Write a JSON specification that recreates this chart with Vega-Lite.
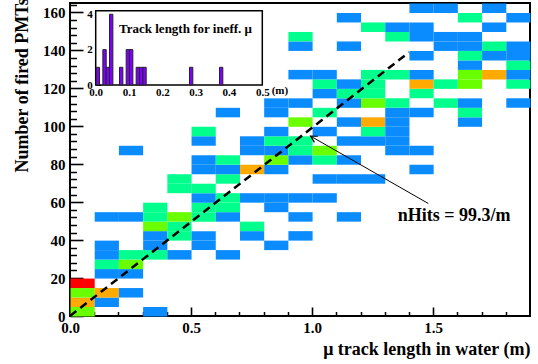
{
  "$schema": "https://vega.github.io/schema/vega-lite/v6.json",
  "width": 460,
  "height": 313,
  "autosize": {"type": "none"},
  "padding": {"left": 70, "top": 3, "right": 8, "bottom": 48},
  "background": "white",
  "config": {
    "view": {"stroke": "black", "strokeWidth": 2},
    "font": "Liberation Serif",
    "axis": {"grid": false, "zindex": 1, "domainColor": "black", "tickColor": "black", "labelColor": "black", "titleColor": "black", "labelFont": "Liberation Serif", "titleFont": "Liberation Serif", "labelFontWeight": "bold", "titleFontWeight": "bold", "labelOverlap": false, "labelFlush": false}
  },
  "layer": [
    {
      "layer": [
        {
          "data": {"values": [
            {"x":0.05,"y":2.5,"n":3},{"x":0.35,"y":2.5,"n":1},
            {"x":0.05,"y":7.5,"n":4},{"x":0.15,"y":7.5,"n":1},
            {"x":0.05,"y":12.5,"n":3},{"x":0.15,"y":12.5,"n":4},{"x":0.25,"y":12.5,"n":1},
            {"x":0.05,"y":17.5,"n":5},
            {"x":0.15,"y":22.5,"n":1},{"x":0.25,"y":22.5,"n":1},
            {"x":0.15,"y":27.5,"n":2},{"x":0.25,"y":27.5,"n":3},
            {"x":0.15,"y":32.5,"n":1},{"x":0.25,"y":32.5,"n":2},{"x":0.35,"y":32.5,"n":2},{"x":0.45,"y":32.5,"n":1},{"x":0.65,"y":32.5,"n":1},
            {"x":0.15,"y":37.5,"n":1},{"x":0.35,"y":37.5,"n":1},{"x":0.55,"y":37.5,"n":1},{"x":0.85,"y":37.5,"n":1},
            {"x":0.35,"y":42.5,"n":1},{"x":0.45,"y":42.5,"n":2},{"x":0.55,"y":42.5,"n":1},{"x":0.75,"y":42.5,"n":1},{"x":0.95,"y":42.5,"n":1},
            {"x":0.35,"y":47.5,"n":3},{"x":0.45,"y":47.5,"n":2},{"x":0.75,"y":47.5,"n":2},
            {"x":0.15,"y":52.5,"n":1},{"x":0.25,"y":52.5,"n":1},{"x":0.35,"y":52.5,"n":2},{"x":0.45,"y":52.5,"n":3},{"x":0.55,"y":52.5,"n":2},{"x":0.65,"y":52.5,"n":1},{"x":0.95,"y":52.5,"n":1},{"x":1.15,"y":52.5,"n":1},
            {"x":0.35,"y":57.5,"n":2},{"x":0.55,"y":57.5,"n":2},{"x":0.65,"y":57.5,"n":2},{"x":0.85,"y":57.5,"n":1},
            {"x":0.55,"y":62.5,"n":1},{"x":0.65,"y":62.5,"n":2},{"x":0.75,"y":62.5,"n":1},{"x":0.85,"y":62.5,"n":1},{"x":0.95,"y":62.5,"n":1},{"x":1.05,"y":62.5,"n":1},
            {"x":0.45,"y":67.5,"n":2},{"x":0.55,"y":67.5,"n":2},
            {"x":0.45,"y":72.5,"n":2},{"x":0.65,"y":72.5,"n":2},{"x":1.05,"y":72.5,"n":1},{"x":1.15,"y":72.5,"n":1},{"x":1.25,"y":72.5,"n":1},
            {"x":0.55,"y":77.5,"n":1},{"x":0.65,"y":77.5,"n":1},{"x":0.75,"y":77.5,"n":4},{"x":0.85,"y":77.5,"n":1},{"x":1.45,"y":77.5,"n":1},
            {"x":0.55,"y":82.5,"n":1},{"x":0.65,"y":82.5,"n":2},{"x":0.85,"y":82.5,"n":3},{"x":0.95,"y":82.5,"n":1},{"x":1.05,"y":82.5,"n":2},{"x":1.15,"y":82.5,"n":1},
            {"x":0.25,"y":87.5,"n":1},{"x":0.75,"y":87.5,"n":1},{"x":0.85,"y":87.5,"n":1},{"x":0.95,"y":87.5,"n":2},{"x":1.05,"y":87.5,"n":3},{"x":1.35,"y":87.5,"n":1},{"x":1.45,"y":87.5,"n":1},
            {"x":0.55,"y":92.5,"n":1},{"x":0.75,"y":92.5,"n":1},{"x":0.85,"y":92.5,"n":2},{"x":0.95,"y":92.5,"n":2},{"x":1.15,"y":92.5,"n":1},{"x":1.25,"y":92.5,"n":1},{"x":1.35,"y":92.5,"n":1},
            {"x":0.55,"y":97.5,"n":2},{"x":0.85,"y":97.5,"n":1},{"x":1.05,"y":97.5,"n":1},{"x":1.25,"y":97.5,"n":2},{"x":1.35,"y":97.5,"n":1},
            {"x":0.95,"y":102.5,"n":3},{"x":1.15,"y":102.5,"n":1},{"x":1.25,"y":102.5,"n":4},{"x":1.35,"y":102.5,"n":1},{"x":1.65,"y":102.5,"n":1},
            {"x":0.65,"y":107.5,"n":1},{"x":0.85,"y":107.5,"n":1},{"x":1.05,"y":107.5,"n":2},{"x":1.35,"y":107.5,"n":1},{"x":1.45,"y":107.5,"n":1},{"x":1.65,"y":107.5,"n":2},
            {"x":0.85,"y":112.5,"n":1},{"x":0.95,"y":112.5,"n":1},{"x":1.15,"y":112.5,"n":1},{"x":1.25,"y":112.5,"n":3},{"x":1.35,"y":112.5,"n":2},{"x":1.55,"y":112.5,"n":2},{"x":1.65,"y":112.5,"n":1},{"x":1.85,"y":112.5,"n":1},
            {"x":1.05,"y":117.5,"n":1},{"x":1.15,"y":117.5,"n":2},{"x":1.25,"y":117.5,"n":2},{"x":1.45,"y":117.5,"n":2},
            {"x":1.05,"y":122.5,"n":2},{"x":1.15,"y":122.5,"n":1},{"x":1.25,"y":122.5,"n":2},{"x":1.45,"y":122.5,"n":4},{"x":1.55,"y":122.5,"n":2},{"x":1.65,"y":122.5,"n":3},{"x":1.85,"y":122.5,"n":2},
            {"x":0.95,"y":127.5,"n":1},{"x":1.05,"y":127.5,"n":1},{"x":1.25,"y":127.5,"n":2},{"x":1.35,"y":127.5,"n":2},{"x":1.45,"y":127.5,"n":1},{"x":1.65,"y":127.5,"n":3},{"x":1.75,"y":127.5,"n":4},{"x":1.85,"y":127.5,"n":1},
            {"x":1.65,"y":132.5,"n":1},{"x":1.85,"y":132.5,"n":2},
            {"x":1.45,"y":137.5,"n":1},{"x":1.65,"y":137.5,"n":2},{"x":1.75,"y":137.5,"n":1},{"x":1.85,"y":137.5,"n":1},
            {"x":0.95,"y":142.5,"n":1},{"x":1.15,"y":142.5,"n":1},{"x":1.55,"y":142.5,"n":1},{"x":1.65,"y":142.5,"n":1},{"x":1.75,"y":142.5,"n":2},{"x":1.85,"y":142.5,"n":1},
            {"x":0.95,"y":147.5,"n":2},{"x":1.35,"y":147.5,"n":2},{"x":1.45,"y":147.5,"n":1},{"x":1.55,"y":147.5,"n":1},{"x":1.65,"y":147.5,"n":1},
            {"x":1.25,"y":152.5,"n":2},{"x":1.35,"y":152.5,"n":1},{"x":1.45,"y":152.5,"n":1},{"x":1.75,"y":152.5,"n":1},
            {"x":1.15,"y":157.5,"n":1},{"x":1.65,"y":157.5,"n":2},{"x":1.85,"y":157.5,"n":1},
            {"x":1.45,"y":162.5,"n":1},{"x":1.55,"y":162.5,"n":1},{"x":1.75,"y":162.5,"n":1}
          ]},
          "mark": {"type": "rect", "binSpacing": 0},
          "encoding": {
            "x": {
              "field": "x", "type": "quantitative",
              "bin": {"step": 0.1, "extent": [0, 1.9]},
              "scale": {"domain": [0, 1.9], "nice": false, "zero": false},
              "axis": {
                "orient": "bottom", "offset": -9, "domain": false,
                "values": [0, 0.5, 1.0, 1.5],
                "format": ".1f", "labelOverlap": false,
                "labelFontSize": 15, "labelPadding": 4, "tickSize": 9, "tickWidth": 1.6,
                "title": "μ track length in water (m)", "titleFontSize": 18,
                "titleAnchor": "end", "titleAlign": "right", "titleBaseline": "alphabetic", "titleX": 460, "titleY": 47.5
              }
            },
            "y": {
              "field": "y", "type": "quantitative",
              "bin": {"step": 5, "extent": [0, 165]},
              "scale": {"domain": [0, 165], "nice": false, "zero": false},
              "axis": {
                "orient": "left", "offset": -13, "domain": false,
                "values": [0, 20, 40, 60, 80, 100, 120, 140, 160],
                "format": "d", "labelOverlap": false,
                "labelFontSize": 15, "labelPadding": 5, "tickSize": 13, "tickWidth": 1.6,
                "title": "Number of fired PMTs", "titleFontSize": 18, "titleAngle": 270,
                "titleAnchor": "start", "titleAlign": "left", "titleBaseline": "alphabetic", "titleX": -56, "titleY": 169
              }
            },
            "color": {
              "field": "n", "type": "ordinal",
              "scale": {"domain": [1,2,3,4,5], "range": ["#0a8cff", "#00ff8c", "#6aff00", "#ffaa00", "#ff0000"]},
              "legend": null
            }
          }
        },
        {
          "data": {"values": [{}]},
          "mark": {"type": "rule", "color": "black", "strokeWidth": 2.5, "strokeDash": [8, 5]},
          "encoding": {
            "x": {"datum": 0, "axis": {"orient": "bottom", "offset": -4.5, "values": [0.1,0.2,0.3,0.4,0.6,0.7,0.8,0.9,1.1,1.2,1.3,1.4,1.6,1.7,1.8], "labels": false, "domain": false, "tickSize": 4.5, "tickWidth": 1.5, "title": null}},
            "y": {"datum": 0, "axis": {"orient": "left", "offset": -6.5, "values": [4,8,12,16,24,28,32,36,44,48,52,56,64,68,72,76,84,88,92,96,104,108,112,116,124,128,132,136,144,148,152,156,164], "labels": false, "domain": false, "tickSize": 6.5, "tickWidth": 1.5, "title": null}},
            "x2": {"datum": 1.4}, "y2": {"datum": 139}
          }
        },
        {
          "data": {"values": [{}]},
          "mark": {"type": "rule", "color": "black", "strokeWidth": 1},
          "encoding": {"x": {"datum": 1.48, "axis": null}, "y": {"datum": 59.3, "axis": null}, "x2": {"datum": 0.994}, "y2": {"datum": 94.8}}
        },
        {
          "data": {"values": [{}]},
          "mark": {"type": "point", "shape": "M-0.55,1L0,0L0.55,1", "filled": false, "stroke": "black", "strokeWidth": 1.2, "size": 160, "angle": 299.6, "opacity": 1},
          "encoding": {"x": {"datum": 0.994, "axis": null}, "y": {"datum": 94.8, "axis": null}}
        },
        {
          "data": {"values": [{}]},
          "mark": {"type": "text", "font": "Liberation Serif", "fontWeight": "bold", "fontSize": 18, "align": "center", "baseline": "alphabetic", "color": "black"},
          "encoding": {"x": {"datum": 1.587, "axis": null}, "y": {"datum": 50, "axis": null}, "text": {"value": "nHits = 99.3/m"}}
        }
      ],
      "resolve": {"axis": {"x": "independent", "y": "independent"}}
    },
    {
      "layer": [
        {
          "data": {"values": [{}]},
          "mark": {"type": "rect", "fill": "white", "stroke": "black", "strokeWidth": 1.5},
          "encoding": {
            "x": {"datum": 0, "scale": {"domain": [0, 0.5], "range": [25.7, 192.3], "nice": false, "zero": false}},
            "x2": {"datum": 0.5},
            "y": {"datum": 0, "scale": {"domain": [0, 4.2], "range": [82, 7.7], "nice": false, "zero": false}},
            "y2": {"datum": 4.2}
          }
        },
        {
          "data": {"values": [
            {"len":0.005,"n":1},{"len":0.025,"n":2},{"len":0.035,"n":1},{"len":0.045,"n":4},
            {"len":0.075,"n":1},{"len":0.095,"n":2},{"len":0.105,"n":2},
            {"len":0.125,"n":1},{"len":0.135,"n":1},{"len":0.145,"n":1},
            {"len":0.285,"n":1},{"len":0.375,"n":1}
          ]},
          "mark": {"type": "bar", "binSpacing": 0, "fill": "#8000ff", "stroke": "#222222", "strokeWidth": 1},
          "encoding": {
            "x": {
              "field": "len", "type": "quantitative",
              "bin": {"step": 0.01, "extent": [0, 0.5]},
              "axis": {
                "orient": "bottom", "offset": -231, "domain": false, "ticks": false,
                "values": [0, 0.1, 0.2, 0.3, 0.4, 0.5], "format": ".1f", "labelOverlap": false,
                "labelFontSize": 11, "labelPadding": 1, "title": null
              }
            },
            "y": {
              "field": "n", "type": "quantitative",
              "axis": {
                "orient": "left", "offset": -30.7, "domain": false, "tickSize": 5, "tickWidth": 1,
                "values": [0, 2, 4], "format": "d", "labelOverlap": false,
                "labelFontSize": 11, "labelPadding": 3.5, "title": null
              }
            }
          }
        },
        {
          "data": {"values": [{}]},
          "mark": {"type": "text", "font": "Liberation Serif", "fontWeight": "bold", "fontSize": 13, "align": "left", "baseline": "alphabetic", "color": "black"},
          "encoding": {"x": {"datum": 0.07}, "y": {"datum": 2.95}, "text": {"value": "Track length for ineff.  μ"}}
        },
        {
          "data": {"values": [{}]},
          "mark": {"type": "text", "font": "Liberation Serif", "fontWeight": "bold", "fontSize": 11, "align": "center", "baseline": "alphabetic", "color": "black"},
          "encoding": {"x": {"datum": 0.553}, "y": {"datum": -0.51}, "text": {"value": "(m)"}}
        }
      ]
    }
  ],
  "resolve": {"scale": {"x": "independent", "y": "independent"}, "axis": {"x": "independent", "y": "independent"}}
}
